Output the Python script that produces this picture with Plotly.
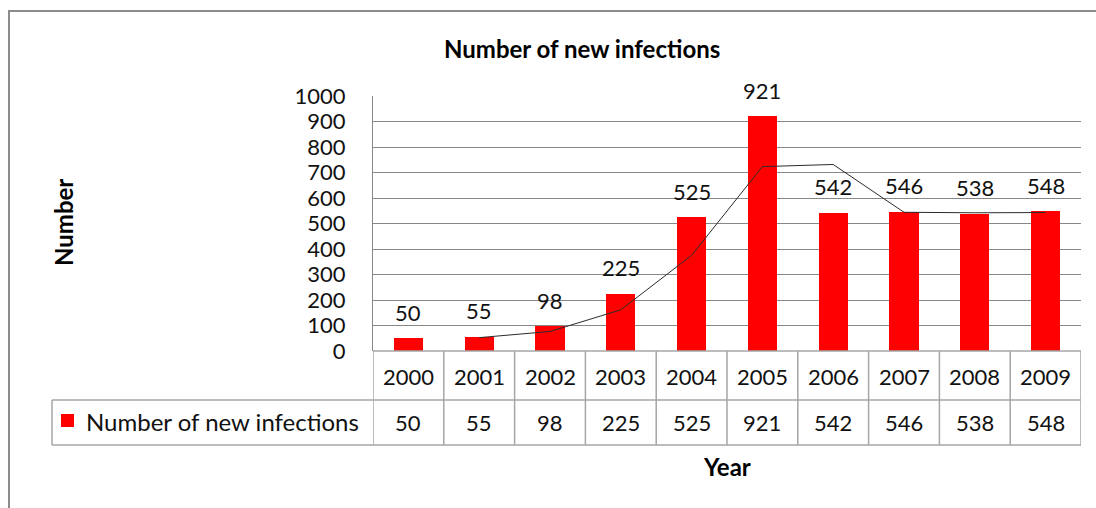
import plotly.graph_objects as go

years = [2000, 2001, 2002, 2003, 2004, 2005, 2006, 2007, 2008, 2009]
infections = [50, 55, 98, 225, 525, 921, 542, 546, 538, 548]
trend_years = [2001, 2002, 2003, 2004, 2005, 2006, 2007, 2008, 2009]
trend_values = [52.5, 76.5, 161.5, 375, 723, 731.5, 544, 542, 543]
y_ticks = [0, 100, 200, 300, 400, 500, 600, 700, 800, 900, 1000]
series_name = "Number of new infections"
chart_title = "Number of new infections"

W, H = 1096, 508
FONT = "Lato"
GRID = "#878787"
TABLE = "#a6a6a6"
RED = "#ff0000"
TXT = "#111111"


def px(x):
    return x / W


def py(y):
    return 1 - y / H


plot_left, plot_right, plot_top, plot_bottom = 373, 1081, 96, 351
row1_bottom, row2_bottom = 400, 445
legend_left = 52

fig = go.Figure()
fig.add_trace(go.Bar(x=years, y=infections, width=0.41, marker=dict(color=RED, line_width=0),
                     name=series_name, showlegend=False))
fig.add_trace(go.Scatter(x=trend_years, y=trend_values, mode="lines",
                         line=dict(color="#2b2b2b", width=1), showlegend=False))

ann = []
# data labels
for yr, v in zip(years, infections):
    ann.append(dict(x=yr, y=v, xref="x", yref="y", text=str(v), showarrow=False,
                    xanchor="center", yanchor="middle", yshift=26,
                    font=dict(family=FONT, size=22, color=TXT)))
# table rows
for yr, v in zip(years, infections):
    ann.append(dict(x=yr, y=py((plot_bottom + row1_bottom) / 2 + 1), xref="x", yref="paper", text=str(yr),
                    showarrow=False, xanchor="center", yanchor="middle",
                    font=dict(family=FONT, size=22, color=TXT)))
    ann.append(dict(x=yr, y=py((row1_bottom + row2_bottom) / 2), xref="x", yref="paper", text=str(v),
                    showarrow=False, xanchor="center", yanchor="middle",
                    font=dict(family=FONT, size=22, color=TXT)))
ann.append(dict(x=px(84), y=py(421), xref="paper", yref="paper", text=series_name, showarrow=False,
                xanchor="left", yanchor="middle", font=dict(family=FONT, size=24, color=TXT)))
ann.append(dict(x=px(582), y=py(48), xref="paper", yref="paper", text="<b>" + chart_title + "</b>",
                showarrow=False, xanchor="center", yanchor="middle",
                font=dict(family=FONT, size=24, color="#000")))
ann.append(dict(x=px(727), y=py(466), xref="paper", yref="paper", text="<b>Year</b>",
                showarrow=False, xanchor="center", yanchor="middle",
                font=dict(family=FONT, size=24, color="#000")))
ann.append(dict(x=px(63), y=py(223), xref="paper", yref="paper", text="<b>Number</b>", textangle=-90,
                showarrow=False, xanchor="center", yanchor="middle",
                font=dict(family=FONT, size=24, color="#000")))

shapes = []
# outer border
shapes.append(dict(type="rect", xref="paper", yref="paper", x0=px(9), x1=px(1110), y0=py(11), y1=py(520),
                   line=dict(color="#8c8c8c", width=2), layer="below"))
# table horizontal lines
for yy, x0 in [(plot_bottom, plot_left), (row1_bottom, legend_left), (row2_bottom, legend_left)]:
    shapes.append(dict(type="line", xref="paper", yref="paper", x0=px(x0), x1=px(plot_right),
                       y0=py(yy), y1=py(yy), line=dict(color=TABLE, width=1.5)))
# table vertical lines
for yr in years + [years[-1] + 1]:
    shapes.append(dict(type="line", xref="x", yref="paper", x0=yr - 0.5, x1=yr - 0.5,
                       y0=py(plot_bottom), y1=py(row2_bottom), line=dict(color=TABLE, width=1.5)))
shapes.append(dict(type="line", xref="paper", yref="paper", x0=px(legend_left), x1=px(legend_left),
                   y0=py(row1_bottom), y1=py(row2_bottom), line=dict(color=TABLE, width=1.5)))
# legend key
shapes.append(dict(type="rect", xref="paper", yref="paper", x0=px(61), x1=px(74), y0=py(414), y1=py(427),
                   fillcolor=RED, line_width=0))

fig.update_layout(
    width=W, height=H, margin=dict(l=0, r=0, t=0, b=0, pad=0, autoexpand=False),
    paper_bgcolor="white", plot_bgcolor="white",
    bargap=0, annotations=ann, shapes=shapes,
    xaxis=dict(domain=[px(plot_left), px(plot_right)], range=[years[0] - 0.5, years[-1] + 0.5],
               showticklabels=False, showgrid=False, zeroline=False, ticks="", automargin=False),
    yaxis=dict(domain=[py(plot_bottom), py(plot_top)], range=[0, 1000], tickvals=y_ticks,
               showgrid=True, gridcolor=GRID, gridwidth=1, zeroline=False,
               showline=True, linecolor=GRID, linewidth=1, ticks="", ticklen=0,
               ticklabelstandoff=22, automargin=False,
               tickfont=dict(family=FONT, size=22, color=TXT)),
    font=dict(family=FONT),
)

fig.write_html("out.html")
